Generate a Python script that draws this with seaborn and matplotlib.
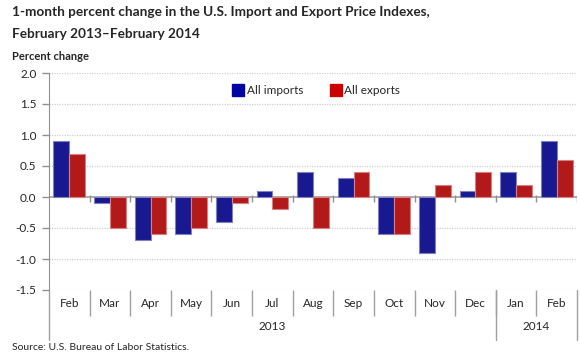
import pandas as pd
import numpy as np
from matplotlib import pyplot as plt
from matplotlib import colors as mcolors
from matplotlib.lines import Line2D
import seaborn as sns

# Data
months = ['Feb', 'Mar', 'Apr', 'May', 'Jun', 'Jul', 'Aug', 'Sep', 'Oct', 'Nov', 'Dec', 'Jan', 'Feb']
years = ['2013', '2013', '2013', '2013', '2013', '2013', '2013', '2013', '2013', '2013', '2013', '2014', '2014']
imports = [0.9, -0.1, -0.7, -0.6, -0.4, 0.1, 0.4, 0.3, -0.6, -0.9, 0.1, 0.4, 0.9]
exports = [0.7, -0.5, -0.6, -0.5, -0.1, -0.2, -0.5, 0.4, -0.6, 0.2, 0.4, 0.2, 0.6]
series_names = ['All imports', 'All exports']
series_colors = ['#0404A4', '#CC0000']
yticks = [2.0, 1.5, 1.0, 0.5, 0.0, -0.5, -1.0, -1.5]

# Long format for seaborn
slots = list(range(len(months)))
df = pd.DataFrame({
    'slot': slots * 2,
    'series': [series_names[0]] * len(months) + [series_names[1]] * len(months),
    'value': imports + exports,
})

sns.set_style('white')
plt.rcParams['font.family'] = ['Lato', 'DejaVu Sans']

fig = plt.figure(figsize=(5.8, 3.6), dpi=100)
ax = fig.add_axes([49 / 580, 70 / 360, 528 / 580, 217 / 360])

sns.barplot(data=df, x='slot', y='value', hue='series', order=slots,
            hue_order=series_names, palette=series_colors, width=0.78,
            ax=ax, legend=False, linewidth=0.8)

# lighter outline on each bar
for p in ax.patches:
    fc = np.array(mcolors.to_rgb(p.get_facecolor()))
    p.set_edgecolor(tuple(fc + (1 - fc) * 0.45))

ax.set_xlim(-0.5, len(months) - 0.5)
ax.set_ylim(-1.5, 2.0)
ax.set_yticks(yticks)
ax.set_yticklabels([f'{v:.1f}' for v in yticks], fontsize=8.5)
ax.set_xlabel('')
ax.set_ylabel('')

# dotted grid, solid zero line
for v in yticks:
    if v == 0:
        ax.axhline(v, color='#A0A0A0', lw=1.2, zorder=0.5)
    else:
        ax.axhline(v, color='#D0D0D0', lw=0.9, ls=(0, (1, 1)), zorder=0.5)

# small ticks on the zero line between groups
bounds = [i + 0.5 for i in slots[:-1]] + [len(months) - 0.5]
ax.vlines(bounds, -0.08, 0.04, color='#909090', lw=1, zorder=1)

for s in ['top', 'right', 'bottom']:
    ax.spines[s].set_visible(False)
ax.spines['left'].set_color('#909090')
ax.tick_params(axis='y', length=5, color='#909090', width=1, pad=4, left=True)

# month labels and separators
ax.set_xticks(slots)
ax.set_xticklabels(months, fontsize=8.5)
ax.tick_params(axis='x', which='major', length=0, pad=6)
ax.set_xticks([i + 0.5 for i in slots[:-1]], minor=True)
ax.tick_params(axis='x', which='minor', bottom=True, length=19, color='#A0A0A0',
               width=1, direction='out')

# year labels and year separators
trans = ax.get_xaxis_transform()
year_edges = [-0.5] + [i - 0.5 for i in range(1, len(years)) if years[i] != years[i - 1]] + [len(years) - 0.5]
for x in year_edges:
    ax.add_line(Line2D([x, x], [0, -0.23], transform=trans, color='#A0A0A0', lw=1, clip_on=False))
for a, b in zip(year_edges[:-1], year_edges[1:]):
    label = years[int(round(a + 0.5))]
    ax.text((a + b) / 2, -0.17, label, transform=trans, ha='center', va='center', fontsize=8.5)

# legend
handles = [Line2D([], [], marker='s', ls='', markersize=8, markerfacecolor=c,
                  markeredgecolor=c) for c in series_colors]
ax.legend(handles, series_names, loc='center', bbox_to_anchor=(0.505, 0.92), ncol=2,
          frameon=False, fontsize=8.5, handletextpad=0.1, columnspacing=2.2, handlelength=1.2)

# titles and source
fig.text(12 / 580, 1 - 12 / 360, '1-month percent change in the U.S. Import and Export Price Indexes,',
         fontsize=9.8, fontweight='bold', va='center', ha='left')
fig.text(12 / 580, 1 - 34 / 360, 'February 2013\u2013February 2014',
         fontsize=9.8, fontweight='bold', va='center', ha='left')
fig.text(12 / 580, 1 - 56 / 360, 'Percent change', fontsize=8, fontweight='bold', va='center', ha='left')
fig.text(12 / 580, 1 - 348 / 360, 'Source: U.S. Bureau of Labor Statistics.', fontsize=7.5, va='center', ha='left')

plt.savefig('out.png', dpi=100)
